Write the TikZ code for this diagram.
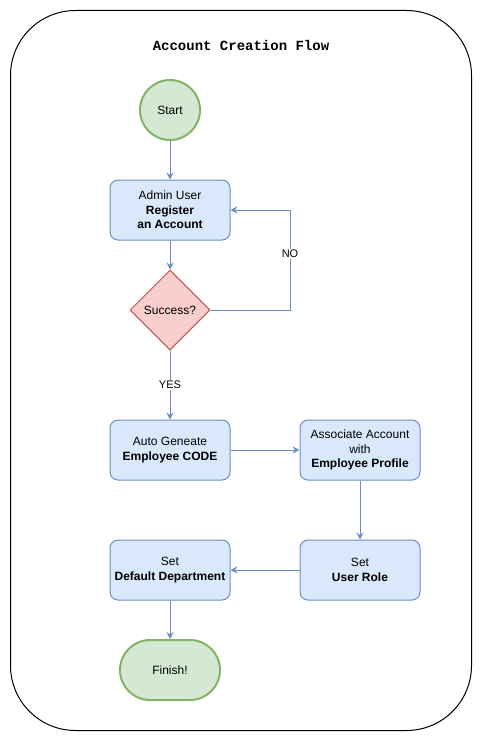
\documentclass[tikz,border=0pt]{standalone}
\usepackage{fontspec}
\setmainfont{Liberation Sans}
\newfontfamily\titlefont{Liberation Mono}
\usetikzlibrary{arrows.meta,shapes.geometric}
\definecolor{bfill}{HTML}{DAE8FC}
\definecolor{bdraw}{HTML}{6C8EBF}
\definecolor{gfill}{HTML}{D5E8D4}
\definecolor{gdraw}{HTML}{82B366}
\definecolor{rfill}{HTML}{F8CECC}
\definecolor{rdraw}{HTML}{B85450}
\tikzset{
  procbox/.style={draw=bdraw, fill=bfill, line width=1pt, rounded corners=8pt,
    minimum width=120pt, minimum height=60pt, inner sep=0pt, align=center,
    font=\fontsize{12}{14.4}\selectfont},
  termcircle/.style={draw=gdraw, fill=gfill, line width=2pt, circle,
    minimum size=60pt, inner sep=0pt, font=\fontsize{12}{14.4}\selectfont},
  termstadium/.style={draw=gdraw, fill=gfill, line width=2pt, rounded corners=30pt,
    minimum width=100pt, minimum height=60pt, inner sep=0pt, font=\fontsize{12}{14.4}\selectfont},
  decision/.style={draw=rdraw, fill=rfill, line width=1pt, diamond, aspect=1,
    minimum size=80pt, inner sep=0pt, font=\fontsize{12}{14.4}\selectfont},
  flow/.style={draw=bdraw, line width=1pt, -{Stealth[length=7pt,width=7pt,inset=2.5pt]}},
  edgelabel/.style={fill=white, inner sep=1pt, font=\fontsize{11}{13}\selectfont},
}
\begin{document}
\begin{tikzpicture}[x=1pt,y=-1pt]
\useasboundingbox (0,0) rectangle (482,741);
\draw[black, line width=1pt, rounded corners=65pt] (10.5,10.5) rectangle (471.5,730.5);
\node[font=\titlefont\bfseries\fontsize{14}{16}\selectfont] (title) at (241,45) {Account Creation Flow};
\node[termcircle] (start) at (170,110) {Start};
\node[procbox] (admin) at (170,210) {Admin User\\\textbf{Register}\\\textbf{an Account}};
\node[decision] (succ) at (170,310) {Success?};
\node[procbox] (auto) at (170,450) {Auto Geneate\\\textbf{Employee CODE}};
\node[procbox] (assoc) at (360,450) {Associate Account\\with\\\textbf{Employee Profile}};
\node[procbox] (role) at (360,570) {Set\\\textbf{User Role}};
\node[procbox] (dept) at (170,570) {Set\\\textbf{Default Department}};
\node[termstadium] (finish) at (170,670) {Finish!};
\coordinate (nob) at (290,310);
\coordinate (not) at (290,210);
\draw[flow] (start) -- (admin);
\draw[flow] (admin) -- (succ);
\draw[flow] (succ.east) -- (nob) -- node[edgelabel, pos=0.56] (nolab) {NO} (not) -- (admin.east);
\draw[flow] (succ) -- node[edgelabel, pos=0.5] (yeslab) {YES} (auto);
\draw[flow] (auto) -- (assoc);
\draw[flow] (assoc) -- (role);
\draw[flow] (role) -- (dept);
\draw[flow] (dept) -- (finish);
\end{tikzpicture}
\end{document}
